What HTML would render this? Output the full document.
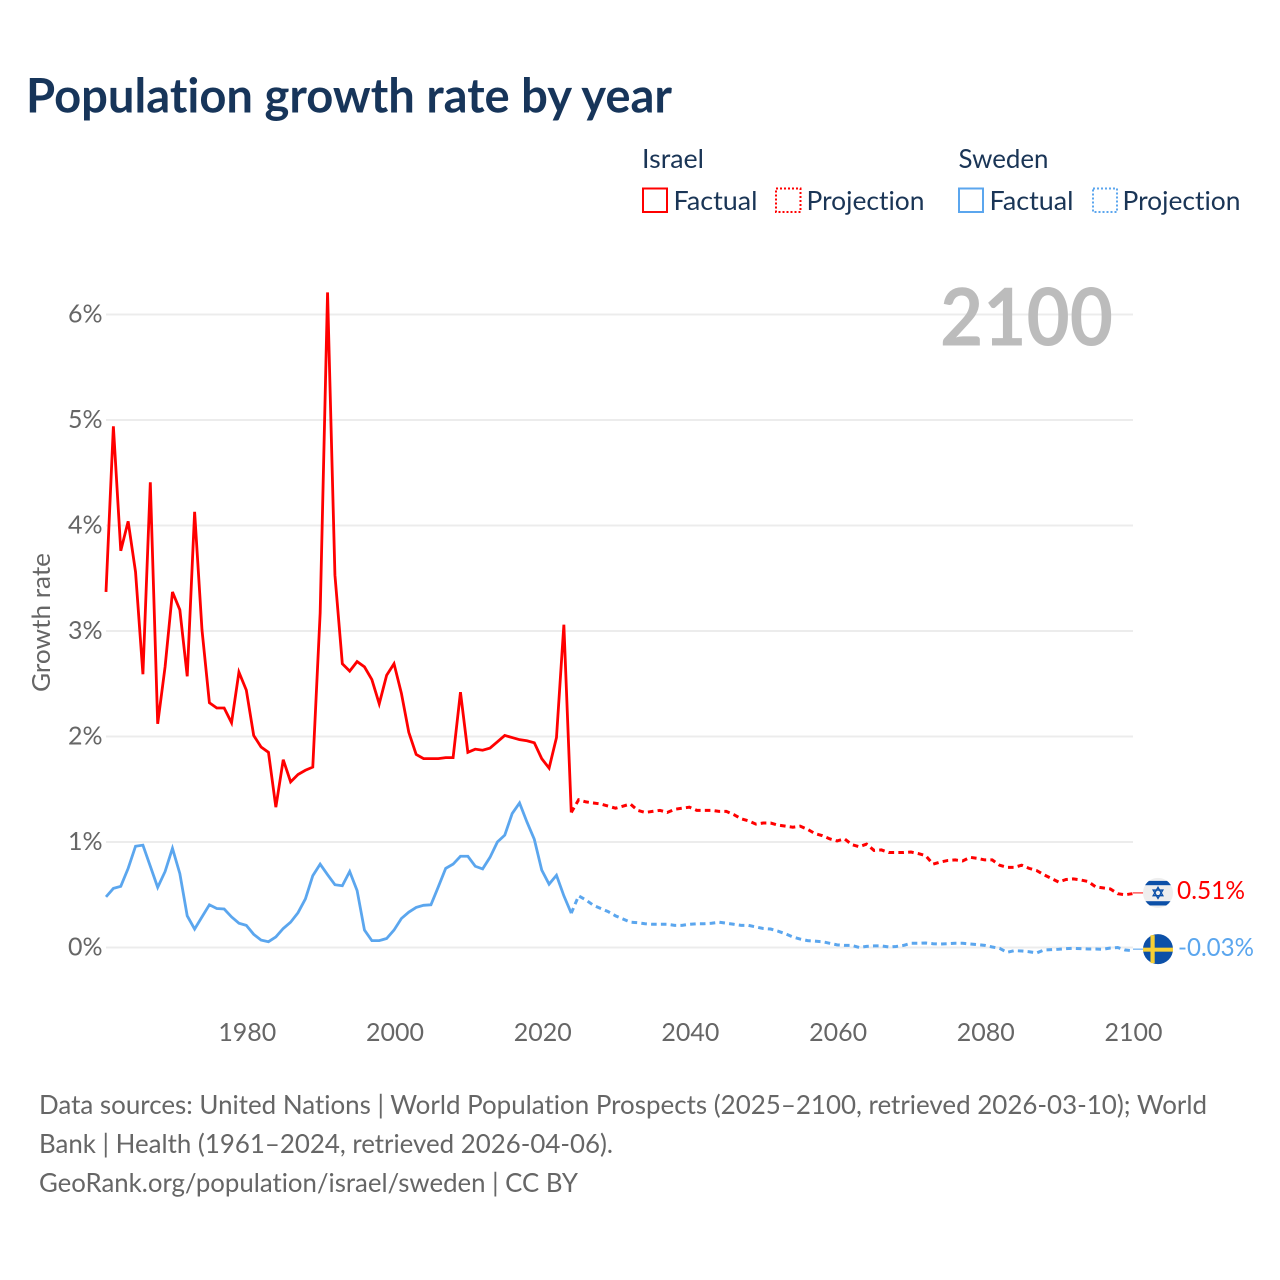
<!DOCTYPE html>
<html lang="en">
<head>
<meta charset="utf-8">
<title>Population growth rate by year</title>
<style>
html,body{margin:0;padding:0;background:#fff;width:1280px;height:1280px;overflow:hidden}
svg{display:block}
text{font-family:"Lato","Carlito","Liberation Sans",sans-serif;font-variant-ligatures:none;font-feature-settings:"liga" 0,"clig" 0}
</style>
</head>
<body>
<svg id="chart" width="1280" height="1280" viewBox="0 0 1280 1280" xmlns="http://www.w3.org/2000/svg">
  <defs>
    <clipPath id="flag-clip"><circle r="15"/></clipPath>
  </defs>
  <text x="26" y="112.500" font-size="48" font-weight="700" fill="#17355a" textLength="646" lengthAdjust="spacingAndGlyphs">Population growth rate by year</text>

  <g>
    <text x="642" y="168" font-size="26.500" fill="#1a3556" textLength="62" lengthAdjust="spacingAndGlyphs">Israel</text>
    <text x="958.500" y="168" font-size="26.500" fill="#1a3556" textLength="90" lengthAdjust="spacingAndGlyphs">Sweden</text>
    <g>
      <rect x="643" y="188.500" width="24" height="23.500" fill="none" stroke="#ff0000" stroke-width="2"/>
      <text x="673.500" y="210" font-size="26.500" fill="#1a3556" textLength="84" lengthAdjust="spacingAndGlyphs">Factual</text>
    </g>
    <g>
      <rect x="776" y="188.500" width="24.500" height="23.500" fill="none" stroke="#ff0000" stroke-width="2" stroke-dasharray="2 2"/>
      <text x="806.500" y="210" font-size="26.500" fill="#1a3556" textLength="118" lengthAdjust="spacingAndGlyphs">Projection</text>
    </g>
    <g>
      <rect x="959" y="188.500" width="24" height="23.500" fill="none" stroke="#5ba6ee" stroke-width="2"/>
      <text x="989.500" y="210" font-size="26.500" fill="#1a3556" textLength="84" lengthAdjust="spacingAndGlyphs">Factual</text>
    </g>
    <g>
      <rect x="1093" y="188.500" width="24" height="23.500" fill="none" stroke="#5ba6ee" stroke-width="2" stroke-dasharray="2 2"/>
      <text x="1122.500" y="210" font-size="26.500" fill="#1a3556" textLength="118" lengthAdjust="spacingAndGlyphs">Projection</text>
    </g>
  </g>

  <g id="grid"></g>
  <g id="yticks"></g>
  <g id="xticks"></g>

  <text x="1113" y="345.500" text-anchor="end" font-size="80" font-weight="700" fill="#bcbcbc" textLength="173" lengthAdjust="spacingAndGlyphs">2100</text>

  <text transform="translate(50,622.500) rotate(-90)" text-anchor="middle" font-size="25" fill="#666666" textLength="139" lengthAdjust="spacingAndGlyphs">Growth rate</text>

  <g id="series"></g>
  <g id="ends"></g>

  <g font-size="26.500" fill="#666666">
    <text x="39" y="1114" textLength="1168" lengthAdjust="spacingAndGlyphs">Data sources: United Nations | World Population Prospects (2025–2100, retrieved 2026-03-10); World</text>
    <text x="39" y="1153" textLength="574" lengthAdjust="spacingAndGlyphs">Bank | Health (1961–2024, retrieved 2026-04-06).</text>
    <text x="39" y="1192" textLength="539" lengthAdjust="spacingAndGlyphs">GeoRank.org/population/israel/sweden | CC BY</text>
  </g>
</svg>

<script>
var factualStartYear = 1961;
var projectionStartYear = 2024;
var yTickValues = [0, 1, 2, 3, 4, 5, 6];
var yTickLabels = ["0%", "1%", "2%", "3%", "4%", "5%", "6%"];
var xTickValues = [1980, 2000, 2020, 2040, 2060, 2080, 2100];
var xTickLabels = ["1980", "2000", "2020", "2040", "2060", "2080", "2100"];

var israelFactual = [3.37,4.94,3.76,4.04,3.56,2.59,4.41,2.12,2.66,3.37,3.20,2.57,4.13,3.01,2.32,2.27,2.27,2.13,2.61,2.44,2.01,1.90,1.85,1.33,1.78,1.57,1.64,1.68,1.71,3.17,6.21,3.53,2.69,2.62,2.71,2.66,2.54,2.31,2.58,2.69,2.41,2.04,1.83,1.79,1.79,1.79,1.80,1.80,2.42,1.85,1.88,1.87,1.89,1.95,2.01,1.99,1.97,1.96,1.94,1.79,1.70,1.99,3.06,1.28];
var israelProjection = [1.28,1.40,1.38,1.37,1.36,1.34,1.32,1.34,1.36,1.30,1.28,1.29,1.30,1.28,1.31,1.32,1.33,1.30,1.30,1.30,1.29,1.29,1.26,1.22,1.20,1.17,1.18,1.18,1.16,1.15,1.14,1.15,1.12,1.08,1.06,1.03,1.01,1.03,0.975,0.955,0.98,0.92,0.925,0.90,0.90,0.90,0.905,0.89,0.87,0.79,0.81,0.825,0.83,0.82,0.855,0.845,0.83,0.83,0.78,0.76,0.76,0.78,0.75,0.73,0.69,0.655,0.62,0.645,0.65,0.64,0.625,0.575,0.565,0.555,0.51,0.50,0.51];
var swedenFactual = [0.48,0.56,0.58,0.75,0.96,0.97,0.77,0.57,0.72,0.94,0.70,0.30,0.175,0.29,0.405,0.37,0.365,0.29,0.23,0.21,0.125,0.07,0.055,0.10,0.18,0.24,0.33,0.46,0.68,0.79,0.69,0.595,0.585,0.72,0.54,0.165,0.065,0.065,0.085,0.165,0.275,0.335,0.38,0.40,0.405,0.575,0.75,0.79,0.865,0.865,0.77,0.745,0.855,1.00,1.065,1.27,1.37,1.19,1.025,0.735,0.60,0.685,0.49,0.325];
var swedenProjection = [0.325,0.49,0.45,0.40,0.37,0.34,0.30,0.27,0.24,0.235,0.225,0.22,0.22,0.22,0.21,0.21,0.22,0.225,0.225,0.23,0.24,0.23,0.22,0.21,0.21,0.195,0.18,0.175,0.155,0.13,0.10,0.08,0.065,0.06,0.055,0.04,0.025,0.02,0.02,0.0,0.011,0.015,0.015,0.005,0.01,0.02,0.04,0.04,0.043,0.036,0.033,0.036,0.04,0.04,0.033,0.027,0.02,0.005,-0.008,-0.046,-0.03,-0.033,-0.04,-0.052,-0.024,-0.02,-0.017,-0.011,-0.008,-0.011,-0.014,-0.014,-0.017,-0.005,0,-0.024,-0.03];
var israelEndLabel = "0.51%";
var swedenEndLabel = "-0.03%";

var NS = "http://www.w3.org/2000/svg";
var xDomain = [1961, 2100], xRange = [106, 1132.5];
var yDomain = [0, 6], yRange = [947.5, 314.5];
function xScale(v){ return xRange[0] + (v - xDomain[0]) / (xDomain[1] - xDomain[0]) * (xRange[1] - xRange[0]); }
function yScale(v){ return yRange[0] + (v - yDomain[0]) / (yDomain[1] - yDomain[0]) * (yRange[1] - yRange[0]); }
function make(tag, attrs, parent, txt){
  var el = document.createElementNS(NS, tag);
  for (var k in attrs) el.setAttribute(k, attrs[k]);
  if (txt !== undefined) el.textContent = txt;
  parent.appendChild(el);
  return el;
}
function pointsFor(values, startYear){
  return values.map(function(v, i){ return xScale(startYear + i).toFixed(2) + "," + yScale(v).toFixed(2); }).join(" ");
}

var grid = document.getElementById("grid");
var yticks = document.getElementById("yticks");
var xticks = document.getElementById("xticks");
var series = document.getElementById("series");
var ends = document.getElementById("ends");

yTickValues.forEach(function(v, i){
  var line = make("line", {x1: xRange[0], x2: 1133, y1: yScale(v), y2: yScale(v), stroke: "#ececec", "stroke-width": 2}, grid);
  
  
  var lab = make("text", {x: 102.5, y: yScale(v) + 8.2, "text-anchor": "end", "font-size": 25, fill: "#666666"}, yticks, yTickLabels[i]);
  
  
});
xTickValues.forEach(function(v, i){
  var lab = make("text", {x: xScale(v) + 1, y: 1041, "text-anchor": "middle", "font-size": 25, fill: "#666666", textLength: 58, lengthAdjust: "spacingAndGlyphs"}, xticks, xTickLabels[i]);
  
  
});

var swedenFactualLine = make("polyline", {points: pointsFor(swedenFactual, factualStartYear), fill: "none", stroke: "#5ba6ee", "stroke-width": 2.8}, series);


var swedenProjectionLine = make("polyline", {points: pointsFor(swedenProjection, projectionStartYear), fill: "none", stroke: "#5ba6ee", "stroke-width": 3, "stroke-dasharray": "5.6 4.2"}, series);


var israelFactualLine = make("polyline", {points: pointsFor(israelFactual, factualStartYear), fill: "none", stroke: "#ff0000", "stroke-width": 2.8}, series);


var israelProjectionLine = make("polyline", {points: pointsFor(israelProjection, projectionStartYear), fill: "none", stroke: "#ff0000", "stroke-width": 3, "stroke-dasharray": "5.6 4.2"}, series);



var ilY = yScale(israelProjection[israelProjection.length - 1]) - 0.8;
var seY = yScale(swedenProjection[swedenProjection.length - 1]) - 1.5;

var ilConn = make("line", {x1: 1133, x2: 1145, y1: ilY, y2: ilY, stroke: "#ff0000", "stroke-width": 1.2, opacity: 0.8}, ends);


var seConn = make("line", {x1: 1133, x2: 1145, y1: seY, y2: seY, stroke: "#5ba6ee", "stroke-width": 1.2, opacity: 0.9}, ends);



/* Israel flag */
var ilFlag = make("g", {transform: "translate(1158," + ilY + ")"}, ends);


make("circle", {r: 15, fill: "#eeeeee"}, ilFlag);
var ilStripes = make("g", {"clip-path": "url(#flag-clip)"}, ilFlag);
make("rect", {x: -13.5, y: -12, width: 27, height: 4.3, fill: "#0c50a8"}, ilStripes);
make("rect", {x: -13.5, y: 8.3, width: 27, height: 4.3, fill: "#0c50a8"}, ilStripes);
make("polygon", {points: "0,-5.500 4.800,2.800 -4.800,2.800", fill: "none", stroke: "#0c50a8", "stroke-width": 1.4}, ilFlag);
make("polygon", {points: "0,5.500 4.800,-2.800 -4.800,-2.800", fill: "none", stroke: "#0c50a8", "stroke-width": 1.4}, ilFlag);

/* Sweden flag */
var seFlag = make("g", {transform: "translate(1158," + seY + ")"}, ends);


make("circle", {r: 15, fill: "#0c50a8"}, seFlag);
make("rect", {x: -15, y: -1.500, width: 30, height: 4, fill: "#f7cf35"}, seFlag);
make("rect", {x: -7.500, y: -14, width: 4.200, height: 28, fill: "#f7cf35"}, seFlag);

var ilLab = make("text", {x: 1177, y: 899, "font-size": 25, fill: "#ff0000", textLength: 68, lengthAdjust: "spacingAndGlyphs"}, ends, israelEndLabel);


var seLab = make("text", {x: 1178, y: 956, "font-size": 25, fill: "#5ba6ee", textLength: 76, lengthAdjust: "spacingAndGlyphs"}, ends, swedenEndLabel);


</script>
</body>
</html>
